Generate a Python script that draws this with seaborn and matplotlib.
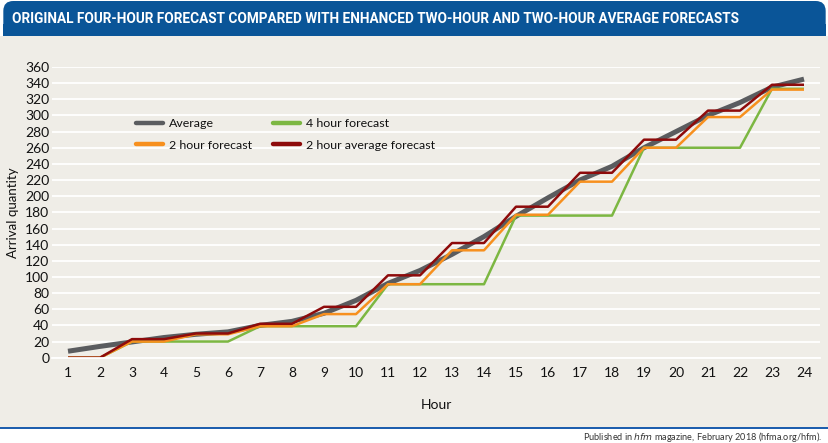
import matplotlib
matplotlib.use("Agg")
import matplotlib.pyplot as plt
from matplotlib.patches import FancyBboxPatch, Rectangle
from matplotlib.lines import Line2D
import seaborn as sns
import pandas as pd
import numpy as np

hours = list(range(1, 25))
average = [8, 14, 19.5, 25, 29, 32, 40, 45, 55, 71, 92, 108, 128, 150, 175, 198,
           220, 237, 260, 280, 300, 316, 335, 345]
four_hour = [0, 0, 20, 20, 20, 20, 39, 39, 39, 39, 91, 91, 91, 91, 176, 176,
             176, 176, 260, 260, 260, 260, 333, 333]
two_hour = [0, 0, 20, 20, 29, 29, 39, 39, 54, 54, 91, 91, 133, 133, 177, 177,
            218, 218, 260, 260, 298, 298, 332, 332]
two_hour_avg = [0, 0, 23, 23, 30, 30, 42, 42, 63, 63, 102, 102, 142, 142, 187, 187,
                229, 229, 270, 270, 306, 306, 338, 338]
yticks = list(range(0, 361, 20))

series_names = ["Average", "4 hour forecast", "2 hour forecast", "2 hour average forecast"]
colors = {"Average": "#5a5c5f", "4 hour forecast": "#7cb742",
          "2 hour forecast": "#f7901e", "2 hour average forecast": "#8e0b0b"}
widths = {"Average": 3.6, "4 hour forecast": 1.8, "2 hour forecast": 1.8,
          "2 hour average forecast": 1.8}

df = pd.DataFrame({"Hour": hours * 4,
                   "value": average + four_hour + two_hour + two_hour_avg,
                   "series": np.repeat(series_names, len(hours))})

sns.set_theme(style="white")
plt.rcParams['font.family'] = ['Lato', 'DejaVu Sans']

W, H = 829, 443
fig = plt.figure(figsize=(W / 100, H / 100), dpi=100, facecolor="white")

def fy(y):
    return 1 - y / H

BG = "#efede7"
BLUE = "#0a5598"
fig.patches.append(Rectangle((0, fy(427)), 1, fy(36) - fy(427), transform=fig.transFigure,
                             facecolor=BG, edgecolor="none", zorder=-3))
fig.patches.append(FancyBboxPatch((0.004, fy(36)), 0.992, fy(1) - fy(36),
                                  boxstyle="round,pad=0,rounding_size=0.012",
                                  transform=fig.transFigure, mutation_aspect=W / H,
                                  facecolor=BLUE, edgecolor="none", zorder=-2))
fig.patches.append(Rectangle((0.004, fy(36)), 0.992, fy(24) - fy(36), transform=fig.transFigure,
                             facecolor=BLUE, edgecolor="none", zorder=-2))
fig.patches.append(Rectangle((0, fy(429)), 1, fy(427) - fy(429), transform=fig.transFigure,
                             facecolor="#1e5fae", edgecolor="none", zorder=-2))

fig.text(12 / W, fy(19), "ORIGINAL FOUR-HOUR FORECAST COMPARED WITH ENHANCED TWO-HOUR AND TWO-HOUR AVERAGE FORECASTS",
         color="white", fontsize=9.8, fontweight="bold", family=["Roboto", "DejaVu Sans"],
         ha="left", va="center")
fig.text(822 / W, fy(437), r"Published in $\mathit{hfm}$ magazine, February 2018 (hfma.org/hfm).",
         color="#333333", fontsize=6.6, ha="right", va="center")

ax = fig.add_axes([52 / W, fy(357.7), (820 - 52) / W, (357.7 - 67) / H])
ax.set_facecolor(BG)

for name in series_names:
    sub = df[df["series"] == name]
    sns.lineplot(data=sub, x="Hour", y="value", ax=ax, color=colors[name],
                 linewidth=widths[name], legend=False, solid_capstyle="butt")

ax.set_xlim(0.5, 24.5)
ax.set_ylim(0, 360)
ax.set_yticks(yticks)
ax.set_yticklabels([str(v) for v in yticks], fontsize=10, color="#111111")
ax.set_xticks(hours)
ax.set_xticklabels([str(h) for h in hours], fontsize=10, color="#111111")
ax.set_xticks([h + 0.5 for h in hours[:-1]] + [0.5], minor=True)
ax.tick_params(axis="x", which="major", length=0, pad=7)
ax.tick_params(axis="x", which="minor", length=5, color="white", width=1.2, direction="out")
ax.tick_params(axis="y", length=0, pad=2)
ax.yaxis.grid(True, color="white", linewidth=1.3)
ax.set_axisbelow(True)
for s in ["top", "right", "left"]:
    ax.spines[s].set_visible(False)
ax.spines["bottom"].set_color("white")
ax.spines["bottom"].set_linewidth(1.3)

ax.set_xlabel("Hour", fontsize=10, color="#111111", labelpad=14)
ax.set_ylabel("Arrival quantity", fontsize=9.5, color="#111111", labelpad=4)

handles = [Line2D([], [], color=colors[n], linewidth=3.2) for n in
           ["Average", "2 hour forecast", "4 hour forecast", "2 hour average forecast"]]
labels = ["Average", "2 hour forecast", "4 hour forecast", "2 hour average forecast"]
leg = ax.legend(handles, labels, ncol=2, frameon=False, loc="upper left",
                bbox_to_anchor=((125 - 52) / (820 - 52), 1 - (107 - 67) / (357.7 - 67)),
                fontsize=8.9, handlelength=2.2, columnspacing=1.7, labelspacing=0.85,
                handletextpad=0.45)
for t in leg.get_texts():
    t.set_color("#111111")

fig.savefig("out.png", dpi=100, facecolor=fig.get_facecolor())
